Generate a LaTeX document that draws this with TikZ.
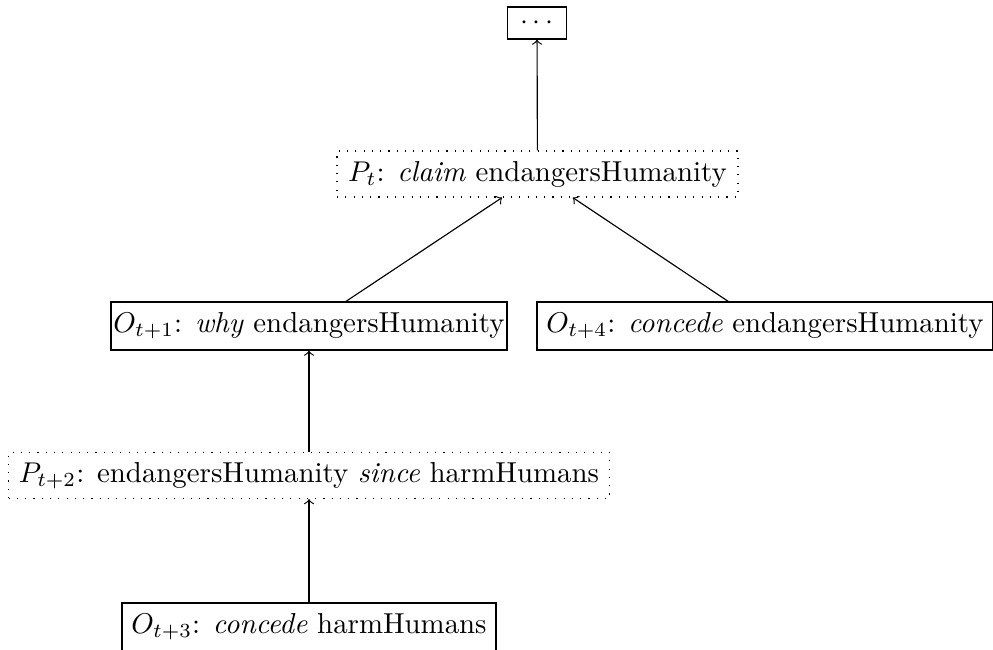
\documentclass[tikz,border=0pt]{standalone}
\begin{document}
\begin{tikzpicture}[x=0.35pt,y=-0.35pt,
  basebox/.style={inner sep=0pt, line width=0.4pt, font=\fontsize{10.1}{12.2}\selectfont, anchor=center},
  solidbox/.style={basebox, draw, minimum height=16.8pt},
  dotbox/.style={basebox, draw, dash pattern=on 0.4pt off 2.5pt, minimum height=16.1pt},
  link/.style={->, line width=0.4pt}]
\useasboundingbox (0,0) rectangle (993,650);
\node[solidbox, minimum width=20.65pt, minimum height=11.2pt] (top) at (537,23) {$\cdots$};
\node[dotbox, minimum width=140.35pt] (pt) at (537.5,174) {$P_t$: \textit{claim} endangersHumanity};
\node[solidbox, minimum width=138.6pt] (o1) at (309,326) {$O_{t+1}$: \textit{why} endangersHumanity};
\node[solidbox, minimum width=159.6pt] (o4) at (765,326) {$O_{t+4}$: \textit{concede} endangersHumanity};
\node[dotbox, minimum width=210.35pt] (p2) at (309,475.5) {$P_{t+2}$: endangersHumanity \textit{since} harmHumans};
\node[solidbox, minimum width=130.9pt] (o3) at (309,627) {$O_{t+3}$: \textit{concede} harmHumans};
\draw[link] (pt) -- (top);
\draw[link] (o1) -- (pt);
\draw[link] (o4) -- (pt);
\draw[link] (p2) -- (o1);
\draw[link] (o3) -- (p2);
\end{tikzpicture}
\end{document}
